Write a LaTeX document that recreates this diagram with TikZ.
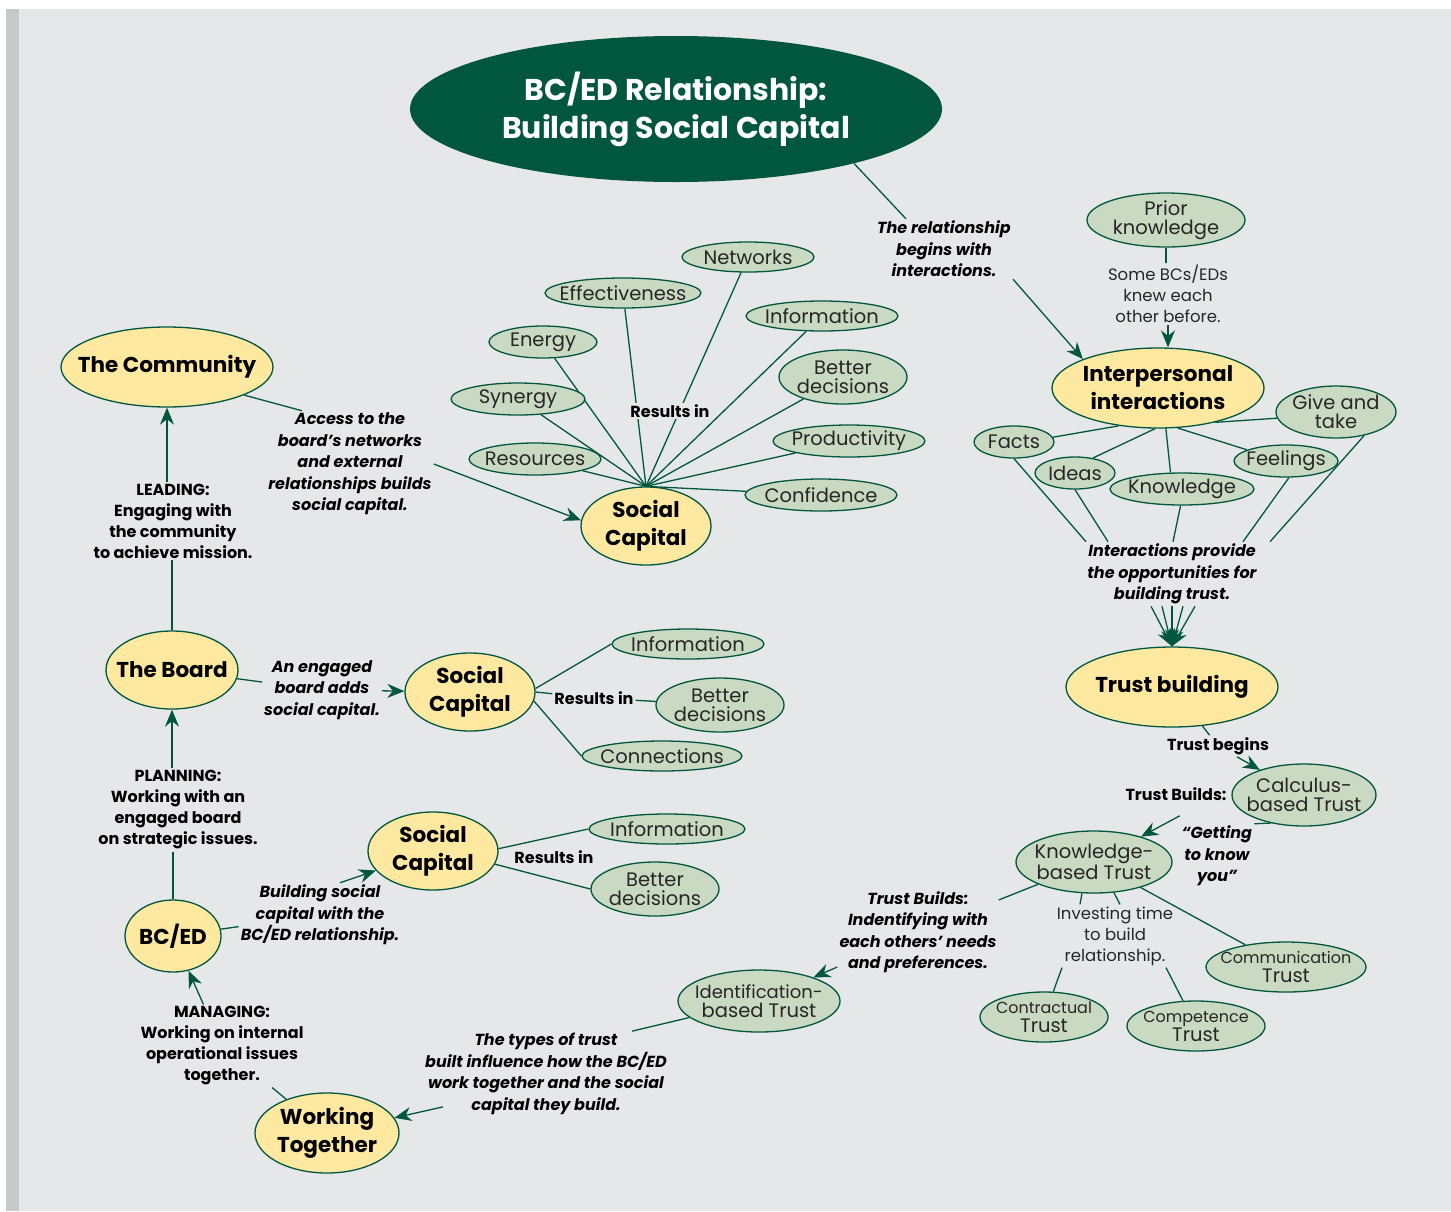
\documentclass[tikz,border=0pt]{standalone}
\usepackage{fontspec}
\setmainfont{Poppins}
\usetikzlibrary{shapes.geometric,arrows.meta}
\pgfdeclarelayer{fond}
\pgfdeclarelayer{liens}
\pgfsetlayers{fond,liens,main}
\definecolor{vertfonce}{RGB}{0,87,62}
\definecolor{vertclair}{RGB}{202,217,193}
\definecolor{jaune}{RGB}{255,233,160}
\definecolor{grisfond}{RGB}{230,231,233}
\definecolor{grisbande}{RGB}{200,201,203}
\newcommand\petit{\fontsize{16}{17.5}\selectfont}
\begin{document}
\begin{tikzpicture}[x=1pt,y=-1pt]
% Styles
\tikzset{
  lien/.style={vertfonce,line width=1.3pt},
  fleche/.style={lien,-{Stealth[length=17pt,width=14pt]}},
  note/.style={font=\fontsize{16}{21.5}\selectfont\bfseries\itshape,align=center,inner sep=2pt},
  etiq/.style={font=\fontsize{16}{21}\selectfont\bfseries,align=center,inner sep=2pt},
  simple/.style={font=\fontsize{16.5}{21}\selectfont,text=black!85,align=center,inner sep=2pt},
  txtvert/.style={font=\fontsize{19.5}{19}\selectfont,text=black!85,align=center},
  txtjaune/.style={font=\fontsize{21.5}{28}\selectfont\bfseries,align=center},
  bulle/.style n args={3}{ellipse,draw=vertfonce,line width=1.3pt,fill=vertclair,
    minimum width=#1,minimum height=#2,inner sep=0pt,label={[txtvert]center:{#3}}},
  cle/.style n args={3}{ellipse,draw=vertfonce,line width=1.3pt,fill=jaune,
    minimum width=#1,minimum height=#2,inner sep=0pt,label={[txtjaune]center:{#3}}}
}
\useasboundingbox (0,0) rectangle (1451,1211);
% Fond
\begin{pgfonlayer}{fond}
\fill[white] (0,0) rectangle (1451,1211);
\fill[grisbande] (6,9) rectangle (19,1211);
\fill[grisfond] (19,9) rectangle (1451,1211);
\end{pgfonlayer}
% Titre
\node[ellipse,fill=vertfonce,minimum width=532,minimum height=146,inner sep=0pt,
  label={[font=\fontsize{30}{38}\selectfont\bfseries,text=white,align=center]center:{BC/ED Relationship:\\Building Social Capital}}] (titre) at (676,109) {};
% Noeuds principaux
\node[cle={212}{80}{The Community}] (communaute) at (167,367) {};
\node[cle={130}{78}{Social\\Capital}] (capital1) at (646,526) {};
\node[cle={132}{78}{The Board}] (conseil) at (172,670) {};
\node[cle={130}{78}{Social\\Capital}] (capital2) at (470,692) {};
\node[cle={130}{78}{Social\\Capital}] (capital3) at (433,851) {};
\node[cle={96}{72}{BC/ED}] (bced) at (173,936) {};
\node[cle={144}{80}{Working\\Together}] (ensemble) at (327,1133) {};
\node[cle={212}{80}{Interpersonal\\interactions}] (interactions) at (1158,388) {};
\node[cle={212}{80}{Trust building}] (confiance) at (1172,687) {};
% Capital social du haut
\node[bulle={132}{30}{Networks}] (reseaux) at (748,257) {};
\node[bulle={156}{30}{Effectiveness}] (efficacite) at (623,293) {};
\node[bulle={152}{30}{Information}] (info1) at (822,316) {};
\node[bulle={108}{32}{Energy}] (energie) at (543,342) {};
\node[bulle={128}{54}{Better\\decisions}] (decisions1) at (843,377) {};
\node[bulle={134}{32}{Synergy}] (synergie) at (518,399) {};
\node[bulle={152}{32}{Productivity}] (productivite) at (849,441) {};
\node[bulle={132}{32}{Resources}] (ressources) at (535,459) {};
\node[bulle={152}{32}{Confidence}] (assurance) at (821,495) {};
\node[etiq,fill=grisfond] (resultat1) at (670,411) {Results in};
% Capital social du milieu
\node[bulle={152}{30}{Information}] (info2) at (688,644) {};
\node[bulle={128}{54}{Better\\decisions}] (decisions2) at (720,705) {};
\node[bulle={160}{30}{Connections}] (connexions) at (662,756) {};
\node[etiq] (resultat2) at (594,698) {Results in};
% Capital social du bas
\node[bulle={156}{30}{Information}] (info3) at (667,829) {};
\node[bulle={128}{54}{Better\\decisions}] (decisions3) at (655,889) {};
\node[etiq] (resultat3) at (554,857) {Results in};
% Interactions
\node[bulle={158}{54}{Prior\\knowledge}] (prealable) at (1166,220) {};
\node[simple] (connus) at (1168,294) {Some BCs/EDs\\knew each\\other before.};
\node[bulle={80}{32}{Facts}] (faits) at (1014,442) {};
\node[bulle={80}{32}{Ideas}] (idees) at (1075,473) {};
\node[bulle={144}{32}{Knowledge}] (savoir) at (1182,489) {};
\node[bulle={104}{32}{Feelings}] (sentiments) at (1286,461) {};
\node[bulle={120}{52}{Give and\\take}] (echange) at (1336,412) {};
\node[note] (occasions) at (1172,574) {Interactions provide\\the opportunities for\\building trust.};
% Types de confiance
\node[bulle={144}{62}{Calculus-\\based Trust}] (calcul) at (1304,795) {};
\node[bulle={156}{62}{Knowledge-\\based Trust}] (connaissance) at (1094,862) {};
\node[bulle={162}{62}{\fontsize{18}{19}\selectfont Identification-\\based Trust}] (identification) at (759,1001) {};
\node[bulle={160}{50}{\petit Communication\\Trust}] (communication) at (1286,967) {};
\node[bulle={128}{50}{\petit Contractual\\Trust}] (contrat) at (1044,1017) {};
\node[bulle={138}{50}{\petit Competence\\Trust}] (competence) at (1196,1026) {};
\node[simple] (temps) at (1115,936) {Investing time\\to build\\relationship.};
\node[etiq] (debut) at (1218,746) {Trust begins};
\node[etiq] at (1176,794) {Trust Builds:};
\node[note] (connaitre) at (1217,856) {“Getting\\to know\\you”};
\node[note] (identifier) at (918,932) {Trust Builds:\\Indentifying with\\each others’ needs\\and preferences.};
% Notes
\node[note] (debutrel) at (944,249) {The relationship\\begins with\\interactions.};
\node[note] (acces) at (350,464) {Access to the\\board’s networks\\and external\\relationships builds\\social capital.};
\node[note] (engage) at (322,690) {An engaged\\board adds\\social capital.};
\node[note] (construire) at (320,915) {Building social\\capital with the\\BC/ED relationship.};
\node[note] (types) at (546,1074) {The types of trust\\built influence how the BC/ED\\work together and the social\\capital they build.};
\node[etiq] (diriger) at (173,521) {LEADING:\\Engaging with\\the community\\to achieve mission.};
\node[etiq] (planifier) at (178,810) {PLANNING:\\Working with an\\engaged board\\on strategic issues.};
\node[etiq] (gerer) at (222,1046) {MANAGING:\\Working on internal\\operational issues\\together.};
% Liens
\begin{pgfonlayer}{liens}
\draw[lien] (titre.-17) -- ([xshift=-38pt]debutrel.north);
\draw[fleche] (debutrel.south east) -- (interactions.159);
\draw[lien] (prealable.south) -- (prealable.south |- connus.north);
\draw[fleche] (connus.south) -- (connus.south |- interactions.north);
\draw[lien] (interactions.224) -- (faits.7);
\draw[lien] (interactions.266) -- (idees.40);
\draw[lien] (interactions.281) -- (savoir.125);
\draw[lien] (interactions.296) -- (sentiments.164);
\draw[lien] (interactions.329) -- (echange.186);
\draw[lien] (faits.270) -- ([xshift=-86pt]occasions.north);
\draw[lien] (idees.270) -- ([xshift=-64pt]occasions.north);
\draw[lien] (savoir.-95) -- ([xshift=1pt]occasions.north);
\draw[lien] (sentiments.-80) -- ([xshift=71pt]occasions.north);
\draw[lien] (echange.-40) -- ([xshift=98pt]occasions.north);
\foreach \dx in {-21,-10,0,11,23}
  \draw[fleche] ([xshift=\dx pt]occasions.south) -- (confiance.north);
\draw[lien] (confiance) -- (debut);
\draw[fleche] (debut) -- (calcul);
\draw[lien] (calcul.220) -- (connaitre.north east);
\draw[fleche] ([yshift=8pt]connaitre.north west) -- (connaissance);
\draw[lien] (connaissance) -- (identifier);
\draw[fleche] (identifier) -- (identification);
\draw[lien] (connaissance.249) -- ([xshift=-35pt]temps.north);
\draw[lien] (connaissance.303) -- ([xshift=5pt]temps.north);
\draw[lien] ([xshift=-53pt]temps.south) -- (contrat);
\draw[lien] ([xshift=51pt]temps.south) -- (competence);
\draw[lien] (connaissance) -- (communication);
\draw[lien] (identification) -- ([xshift=86pt]types.north);
\draw[fleche] ([xshift=20pt,yshift=10pt]types.south west) -- (ensemble);
\draw[lien] (ensemble) -- (gerer);
\draw[fleche] (gerer) -- (bced);
\draw[lien] (bced.north) -- (bced.north |- planifier.south);
\draw[fleche] (conseil.south |- planifier.north) -- (conseil.south);
\draw[lien] (conseil.north) -- (conseil.north |- diriger.south);
\draw[fleche] (communaute.south |- diriger.north) -- (communaute.south);
\draw[lien] (communaute.-20) -- ([xshift=-48pt]acces.north);
\draw[fleche] (acces.east) -- (capital1.175);
\foreach \n in {reseaux,efficacite,info1,energie,decisions1,synergie,productivite,ressources,assurance}
  \draw[lien] (capital1.north) -- (\n);
\draw[lien] (conseil) -- (engage);
\draw[fleche] (engage) -- (capital2);
\draw[lien] (capital2.3) -- (info2.west);
\draw[lien] (capital2.east) -- (resultat2);
\draw[lien] (resultat2) -- (decisions2);
\draw[lien] (capital2.-8) -- (connexions.west);
\draw[lien] (bced) -- (construire);
\draw[fleche] ([xshift=20pt]construire.north) -- (capital3);
\draw[lien] (capital3.2) -- (info3.west);
\draw[lien] (capital3.-12) -- (decisions3.west);
\end{pgfonlayer}
\end{tikzpicture}
\end{document}
